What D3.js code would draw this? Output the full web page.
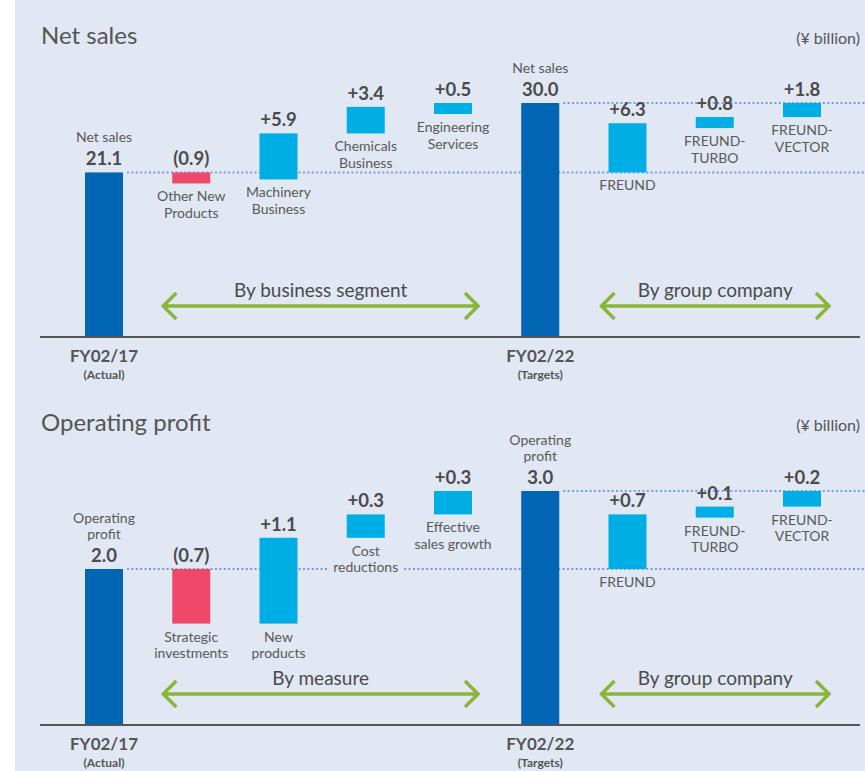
<!DOCTYPE html>
<html lang="en">
<head>
  <meta charset="UTF-8">
  <title>Net sales / Operating profit bridge</title>
  <script src="https://d3js.org/d3.v7.min.js"></script>
  <style>
    body {
      margin: 0;
      background: white;
      font-family: Lato, "Open Sans", sans-serif;
    }
    svg {
      display: block;
    }
    .title { font-size: 24px; fill: #555; }
    .unit { font-size: 16px; fill: #555; }
    .value { font-size: 18.5px; font-weight: bold; fill: #4b4b4b; }
    .cat { font-size: 14px; fill: #5a5a5a; }
    .period { font-size: 17px; font-weight: bold; fill: #555; }
    .note { font-size: 12px; font-weight: bold; fill: #555; }
    .group-label { font-size: 19px; fill: #4b4b4b; }
  </style>
</head>
<body>
  <svg width="865" height="771"></svg>

  <script>
    // period columns (first and last bar of each bridge)
    const periods = ["FY02/17", "FY02/22"];
    const periodNotes = ["(Actual)", "(Targets)"];

    // Net sales (¥ billion)
    const netTotals = [21.1, 30.0];
    const netSegmentLabels = ["Other New\nProducts", "Machinery\nBusiness", "Chemicals\nBusiness", "Engineering\nServices"];
    const netSegmentValues = [-0.9, 5.9, 3.4, 0.5];
    const netCompanyLabels = ["FREUND", "FREUND-\nTURBO", "FREUND-\nVECTOR"];
    const netCompanyValues = [6.3, 0.8, 1.8];

    // Operating profit (¥ billion)
    const opTotals = [2.0, 3.0];
    const opMeasureLabels = ["Strategic\ninvestments", "New\nproducts", "Cost\nreductions", "Effective\nsales growth"];
    const opMeasureValues = [-0.7, 1.1, 0.3, 0.3];
    const opCompanyLabels = ["FREUND", "FREUND-\nTURBO", "FREUND-\nVECTOR"];
    const opCompanyValues = [0.7, 0.1, 0.2];

    const width = 865;
    const bg = "#e1e7f3";
    const colors = { total: "#0065b3", up: "#00aee6", down: "#ef4868" };
    const lineGap = 16.5;

    const svg = d3.select("svg");

    svg.append("rect")
      .attr("x", 15).attr("y", 0)
      .attr("width", width - 15).attr("height", 771)
      .attr("fill", bg);

    drawPanel({
      title: "Net sales",
      top: 44,
      axisY: 337,
      maxY: 103,
      totals: netTotals,
      totalLabel: ["Net sales"],
      leftLabels: netSegmentLabels,
      leftValues: netSegmentValues,
      leftName: "By business segment",
      rightLabels: netCompanyLabels,
      rightValues: netCompanyValues,
      rightName: "By group company"
    });

    drawPanel({
      title: "Operating profit",
      top: 431,
      axisY: 725,
      maxY: 491,
      totals: opTotals,
      totalLabel: ["Operating", "profit"],
      leftLabels: opMeasureLabels,
      leftValues: opMeasureValues,
      leftName: "By measure",
      rightLabels: opCompanyLabels,
      rightValues: opCompanyValues,
      rightName: "By group company"
    });

    function fmt(v) {
      return v < 0 ? `(${Math.abs(v).toFixed(1)})` : `+${v.toFixed(1)}`;
    }

    function drawPanel(cfg) {
      const g = svg.append("g");

      const keys = ["start", ...cfg.leftLabels, "end", ...cfg.rightLabels.map(d => "r:" + d)];
      const x = d3.scalePoint().domain(keys).range([104, 802]);
      const y = d3.scaleLinear().domain([0, d3.max(cfg.totals)]).range([cfg.axisY, cfg.maxY]);
      const barW = 38;
      const minH = 11;

      // bridge steps, both groups start from the first total
      const steps = [];
      let acc = cfg.totals[0];
      cfg.leftValues.forEach((v, i) => {
        steps.push({ key: cfg.leftLabels[i], label: cfg.leftLabels[i], value: v, from: acc, to: acc + v });
        acc += v;
      });
      acc = cfg.totals[0];
      cfg.rightValues.forEach((v, i) => {
        steps.push({ key: "r:" + cfg.rightLabels[i], label: cfg.rightLabels[i], value: v, from: acc, to: acc + v });
        acc += v;
      });
      steps.forEach(d => {
        d.h = Math.max(Math.abs(y(d.from) - y(d.to)), minH);
        d.top = d.value < 0 ? y(d.from) : y(d.to);
      });

      // titles
      g.append("text").attr("class", "title")
        .attr("x", 41).attr("y", cfg.top).text(cfg.title);
      g.append("text").attr("class", "unit")
        .attr("x", 860).attr("y", cfg.top).attr("text-anchor", "end").text("(¥ billion)");

      // dotted reference levels
      g.append("g")
        .selectAll("line")
        .data([[cfg.totals[0], x("start")], [cfg.totals[1], x("end")]])
        .join("line")
        .attr("x1", d => d[1] + barW / 2 + 4)
        .attr("x2", width)
        .attr("y1", d => y(d[0]))
        .attr("y2", d => y(d[0]))
        .attr("stroke", "#7a9dda")
        .attr("stroke-width", 2)
        .attr("stroke-dasharray", "2 2.4");

      // step category labels, one text per line, knocked out of the dotted lines
      const cats = g.append("g")
        .selectAll("g")
        .data(steps)
        .join("g");
      cats.selectAll("text")
        .data(d => d.label.split("\n").map((t, i) => ({ t, cx: x(d.key), cy: d.top + d.h + 18 + i * lineGap })))
        .join("text")
        .attr("class", "cat")
        .attr("text-anchor", "middle")
        .attr("x", d => d.cx)
        .attr("y", d => d.cy)
        .text(d => d.t);
      cats.each(function () {
        const b = this.getBBox();
        d3.select(this).insert("rect", "text")
          .attr("x", b.x - 4).attr("y", b.y + 2)
          .attr("width", b.width + 8).attr("height", b.height - 4)
          .attr("fill", bg);
      });

      // total bars
      g.append("g")
        .selectAll("rect")
        .data([["start", cfg.totals[0]], ["end", cfg.totals[1]]])
        .join("rect")
        .attr("x", d => x(d[0]) - barW / 2)
        .attr("width", barW)
        .attr("y", d => y(d[1]))
        .attr("height", d => y(0) - y(d[1]))
        .attr("fill", colors.total);

      // step bars
      g.append("g")
        .selectAll("rect")
        .data(steps)
        .join("rect")
        .attr("x", d => x(d.key) - barW / 2)
        .attr("width", barW)
        .attr("y", d => d.top)
        .attr("height", d => d.h)
        .attr("fill", d => d.value < 0 ? colors.down : colors.up);

      // value labels
      g.append("g")
        .selectAll("text")
        .data(steps)
        .join("text")
        .attr("class", "value")
        .attr("text-anchor", "middle")
        .attr("x", d => x(d.key))
        .attr("y", d => (d.value < 0 ? y(d.from) : d.top) - 7)
        .text(d => fmt(d.value));

      const totals = g.append("g")
        .selectAll("g")
        .data([["start", cfg.totals[0]], ["end", cfg.totals[1]]])
        .join("g")
        .attr("transform", d => `translate(${x(d[0])},${y(d[1]) - 7})`);
      totals.append("text")
        .attr("class", "value")
        .attr("text-anchor", "middle")
        .text(d => d[1].toFixed(1));
      totals.selectAll("text.cat")
        .data(cfg.totalLabel.slice().reverse())
        .join("text")
        .attr("class", "cat")
        .attr("text-anchor", "middle")
        .attr("y", (d, i) => -23 - i * lineGap)
        .text(d => d);

      // baseline
      g.append("line")
        .attr("x1", 40).attr("x2", 860)
        .attr("y1", cfg.axisY).attr("y2", cfg.axisY)
        .attr("stroke", "#555")
        .attr("stroke-width", 2.2);

      // period labels
      const per = g.append("g")
        .selectAll("g")
        .data(periods.map((p, i) => ({ p, note: periodNotes[i], k: i ? "end" : "start" })))
        .join("g")
        .attr("transform", d => `translate(${x(d.k)},${cfg.axisY})`);
      per.append("text").attr("class", "period")
        .attr("text-anchor", "middle").attr("y", 25).text(d => d.p);
      per.append("text").attr("class", "note")
        .attr("text-anchor", "middle").attr("y", 42).text(d => d.note);

      // green range arrows
      const ranges = [
        { name: cfg.leftName, a: x(cfg.leftLabels[0]) - 28, b: x(cfg.leftLabels[cfg.leftLabels.length - 1]) + 25 },
        { name: cfg.rightName, a: x("r:" + cfg.rightLabels[0]) - 26, b: x("r:" + cfg.rightLabels[cfg.rightLabels.length - 1]) + 27 }
      ];
      const ay = cfg.axisY - 31;
      const arr = g.append("g")
        .selectAll("g")
        .data(ranges)
        .join("g");
      arr.append("path")
        .attr("d", d => `M${d.a + 13},${ay - 13}L${d.a},${ay}L${d.a + 13},${ay + 13}` +
          `M${d.a},${ay}H${d.b}` +
          `M${d.b - 13},${ay - 13}L${d.b},${ay}L${d.b - 13},${ay + 13}`)
        .attr("fill", "none")
        .attr("stroke", "#8cb43b")
        .attr("stroke-width", 3.5);
      arr.append("text")
        .attr("class", "group-label")
        .attr("text-anchor", "middle")
        .attr("x", d => (d.a + d.b) / 2)
        .attr("y", cfg.axisY - 40)
        .text(d => d.name);
    }
  </script>
</body>
</html>
